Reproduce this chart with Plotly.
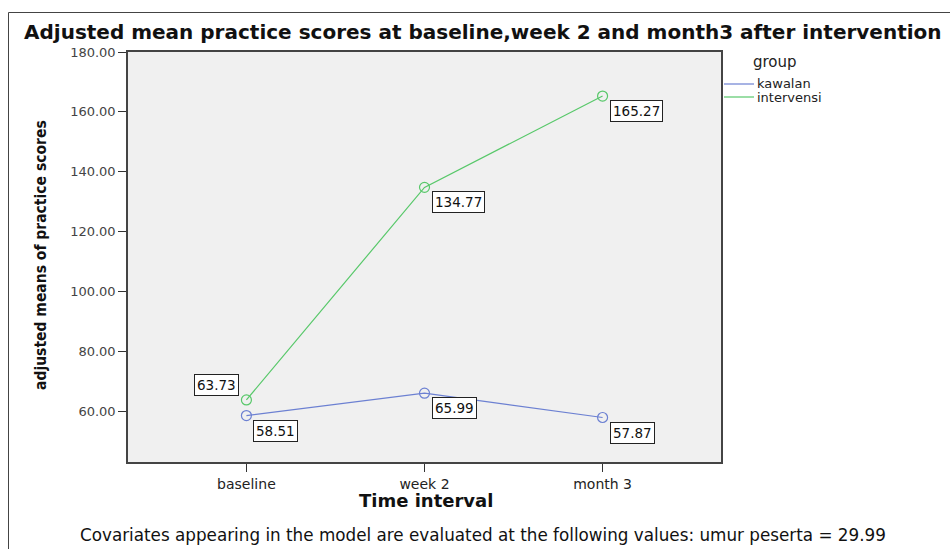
import plotly.graph_objects as go

categories = ["baseline", "week 2", "month 3"]
kawalan = [58.51, 65.99, 57.87]
intervensi = [63.73, 134.77, 165.27]
y_ticks = [60, 80, 100, 120, 140, 160, 180]
y_tick_labels = ["60.00", "80.00", "100.00", "120.00", "140.00", "160.00", "180.00"]

BLUE = "#6c80d2"
GREEN = "#58c86a"
W, H = 950, 549
L, R, T, B = 128, 229, 52, 87
pw, ph = W - L - R, H - T - B

def px(xpix):
    return (xpix - L) / pw

def py(ypix):
    return (H - B - ypix) / ph

xi = list(range(len(categories)))
fig = go.Figure()
for name, vals, col in [("kawalan", kawalan, BLUE), ("intervensi", intervensi, GREEN)]:
    fig.add_trace(go.Scatter(
        x=xi, y=vals, mode="lines+markers", name=name,
        line=dict(color=col, width=1.2),
        marker=dict(symbol="circle-open", size=10, color=col, line=dict(width=1.2)),
        showlegend=False, hoverinfo="skip"))

font = "DejaVu Sans, Verdana, sans-serif"
ann = []
box = dict(bordercolor="#222", borderwidth=1, bgcolor="white", borderpad=2,
           font=dict(family=font, size=13.5, color="#111"), showarrow=False)
for i, v in enumerate(kawalan):
    ann.append(dict(x=xi[i], y=v, text=f"{v:.2f}", xanchor="left", yanchor="top",
                    xshift=7, yshift=-4, **box))
for i, v in enumerate(intervensi):
    if i == 0:
        ann.append(dict(x=xi[i], y=v, text=f"{v:.2f}", xanchor="right", yanchor="bottom",
                        xshift=-7, yshift=4, **box))
    else:
        ann.append(dict(x=xi[i], y=v, text=f"{v:.2f}", xanchor="left", yanchor="top",
                        xshift=7, yshift=-4, **box))

ann.append(dict(xref="paper", yref="paper", x=px(483), y=py(32.5), text="<b>Adjusted mean practice scores at baseline,week 2 and month3 after intervention</b>",
                showarrow=False, xanchor="center", yanchor="middle",
                font=dict(family=font, size=20, color="#111")))
ann.append(dict(xref="paper", yref="paper", x=px(41), y=py(255), text="<b>adjusted means of practice scores</b>",
                showarrow=False, xanchor="center", yanchor="middle", textangle=-90,
                font=dict(family="DejaVu Sans Condensed, Liberation Sans Narrow, sans-serif", size=15.5, color="#111")))
ann.append(dict(xref="paper", yref="paper", x=px(426), y=py(500), text="<b>Time interval</b>",
                showarrow=False, xanchor="center", yanchor="middle",
                font=dict(family=font, size=18, color="#111")))
ann.append(dict(xref="paper", yref="paper", x=px(483), y=py(535),
                text="Covariates appearing in the model are evaluated at the following values: umur peserta = 29.99",
                showarrow=False, xanchor="center", yanchor="middle",
                font=dict(family=font, size=16.8, color="#111")))
ann.append(dict(xref="paper", yref="paper", x=px(751), y=py(62), text="group",
                showarrow=False, xanchor="left", yanchor="middle",
                font=dict(family=font, size=15, color="#222")))
shapes = []
for j, (name, col) in enumerate([("kawalan", BLUE), ("intervensi", GREEN)]):
    yy = 84 + 13 * j
    shapes.append(dict(type="line", xref="paper", yref="paper", x0=px(724), x1=px(754),
                       y0=py(yy), y1=py(yy), line=dict(color=col, width=1.2)))
    ann.append(dict(xref="paper", yref="paper", x=px(755), y=py(yy), text=name,
                    showarrow=False, xanchor="left", yanchor="middle",
                    font=dict(family=font, size=13, color="#222")))
shapes.append(dict(type="line", xref="paper", yref="paper", x0=px(8.5), x1=px(950), y0=py(12.5), y1=py(12.5),
                   line=dict(color="#444", width=1)))
shapes.append(dict(type="line", xref="paper", yref="paper", x0=px(8.5), x1=px(8.5), y0=py(12.5), y1=py(549),
                   line=dict(color="#444", width=1)))

fig.update_layout(
    width=W, height=H, margin=dict(l=L, r=R, t=T, b=B),
    paper_bgcolor="white", plot_bgcolor="#f0f0f0",
    annotations=ann, shapes=shapes, showlegend=False,
    xaxis=dict(range=[-0.665, 2.665], tickvals=xi, ticktext=categories,
               ticks="outside", ticklen=8, tickcolor="#333", showgrid=False, zeroline=False,
               showline=True, linecolor="#444", linewidth=1.5, mirror=True,
               tickfont=dict(family=font, size=14, color="#222")),
    yaxis=dict(range=[43, 180], tickvals=y_ticks, ticktext=y_tick_labels,
               ticks="outside", ticklen=8, tickcolor="#333", showgrid=False, zeroline=False,
               showline=True, linecolor="#444", linewidth=1.5, mirror=True,
               tickfont=dict(family=font, size=13, color="#444")),
)
fig.write_html("out.html", config={"displayModeBar": False},
               post_script="document.body.style.margin='0';document.body.style.overflow='hidden';")
